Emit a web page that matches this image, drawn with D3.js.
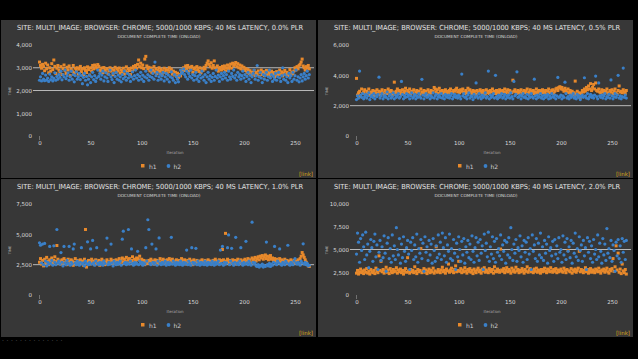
<!DOCTYPE html>
<html><head><meta charset="utf-8">
<script src="https://cdn.jsdelivr.net/npm/d3@7"></script>
<style>html,body{margin:0;padding:0;background:#000;overflow:hidden}</style>
</head><body><svg id="c" width="638" height="359"></svg>
<script>
const titles = [
 "SITE: MULTI_IMAGE; BROWSER: CHROME; 5000/1000 KBPS; 40 MS LATENCY, 0.0% PLR",
 "SITE: MULTI_IMAGE; BROWSER: CHROME; 5000/1000 KBPS; 40 MS LATENCY, 0.5% PLR",
 "SITE: MULTI_IMAGE; BROWSER: CHROME; 5000/1000 KBPS; 40 MS LATENCY, 1.0% PLR",
 "SITE: MULTI_IMAGE; BROWSER: CHROME; 5000/1000 KBPS; 40 MS LATENCY, 2.0% PLR"];
const subtitle = "DOCUMENT COMPLETE TIME (ONLOAD)";
const xTitle = "Iteration", yTitle = "TIME";
const seriesNames = ["h1","h2"];
const xTicks = [0,50,100,150,200,250];
const yMaxes = [4000,6000,7500,10000];
const yTicks = [[0,1000,2000,3000,4000],[0,2000,4000,6000],[0,2500,5000,7500],[0,2500,5000,7500,10000]];
const gridVals = [[2000,3000],[2000],[2500],[5000]];

const p1h1 = [3250,3100,2980,3150,3050,2870,3200,2950,3120,2780,3000,2850,3180,2920,3340,3060,2750,2980,3100,2900,
2820,3050,2700,2960,3120,2880,2750,3020,2900,3080,2650,2950,2850,3100,2780,2980,2890,3000,2720,2940,
3060,2830,2950,2700,3000,2880,2790,3040,2920,2680,3000,2860,3100,2950,3120,3050,2980,3140,3060,2900,
2870,2990,2780,3010,2900,2820,2960,2730,2880,3000,2850,2940,2700,2890,3020,2800,2950,2860,2990,2760,
2900,2830,2980,2720,2870,3040,2810,2950,2880,2700,2990,2850,3060,2920,3100,2980,3150,3340,3050,3200,
3000,3120,2960,3380,3500,3080,2950,3020,2860,2990,2780,2900,3050,2820,2950,2750,2880,3000,2840,2930,
2700,2860,2980,2800,2920,2760,2890,3000,2830,2940,2720,2850,2680,2800,2620,2760,2580,2700,2640,2780,
2900,3000,2880,3080,2960,3100,2850,3020,2930,3060,2800,2950,3000,2870,3050,2920,2840,3000,2780,2930,
2880,3020,2950,3100,3200,3300,3150,3050,3220,2980,3100,3300,3000,2920,3080,2850,2970,3010,2900,3060,
2950,3080,2870,3000,3120,2930,3050,3160,2980,3200,3100,3150,3230,3050,3180,3000,3120,2950,3080,2900,
3020,2880,2960,2800,2920,2750,2870,2680,2800,2720,2880,2650,2790,2700,2860,2620,2780,2900,2700,2830,
2650,2760,2880,2700,2800,2620,2740,2850,2680,2790,2600,2720,2830,2660,2770,2900,2700,2820,2640,2750,
2880,2700,2800,2650,2760,2920,2680,2810,2740,2860,3000,2900,3050,2950,3100,3150,3250,3380,3080,3000,
2900,3050,2980,3100,2950];
const p1h2 = [2450,2600,2420,2750,2500,2430,2680,2460,2550,2400,2720,2480,2600,2420,2530,2780,2450,2620,2500,2700,
2580,2850,2470,2700,2600,2900,2520,2650,2780,2450,2600,2850,2500,2700,2380,2650,2820,2500,2600,2750,
2480,2660,2300,2580,2750,2450,2620,2250,2500,2680,2350,2600,2800,2480,2650,2400,2550,2900,2620,2750,
2500,2680,2850,2420,2600,2780,2550,2400,2700,2900,2600,2480,2750,2350,2620,2800,2500,2680,2450,2600,
2380,2700,2520,2850,2600,2450,2750,2550,2680,2400,2600,2820,2500,2650,2900,2550,2700,2450,2620,2800,
2500,2680,2400,2600,2850,2550,2700,2450,2620,2900,2580,2750,2500,3250,2650,2800,2450,2600,2720,2500,
2650,2800,2420,2600,2750,2500,2680,2380,2600,2820,2550,2450,2700,2350,2600,2500,2380,2650,2900,2750,
2800,2950,2700,2600,2850,2500,2750,2620,2900,2550,2700,2450,2650,2800,2500,2620,2400,2700,2550,2850,
2600,2450,2700,2350,2600,2800,2500,2650,2400,2580,2750,2450,2620,2900,2550,2680,2400,2600,2750,2500,
2650,2800,2550,2700,2450,2850,2600,2500,2750,2620,2900,2550,2680,2450,2800,2600,2700,2500,2650,2850,
2550,2700,2400,2620,2800,2500,2680,2350,2600,2750,2900,2500,2650,3100,2450,2600,2800,2550,2350,2700,
2500,2650,2800,2450,2600,2900,2550,2700,2400,2620,2500,2750,2450,2600,2800,2550,2400,2650,3000,2500,
2700,2450,2600,2350,2750,2550,2650,2400,2800,2500,2650,2900,2450,2600,2380,2550,2700,2420,2600,2750,
2500,2650,2850,2550,2700];

const p2h1 = [3800,2700,2850,2950,2600,3100,2800,2900,3050,2750,2950,2850,3100,2700,2900,2800,3000,2650,2950,2850,
3050,2800,2950,2700,2900,3050,2850,2750,3000,2900,2800,3100,2950,2850,3000,2700,2900,3550,2850,2950,
3100,2800,3000,2900,2750,3050,2850,2950,3150,2800,3000,2900,3100,2750,2950,2850,3050,2700,2900,3000,
2850,2950,2750,3100,2900,2800,3000,2850,2950,2700,3050,2900,2800,3000,2850,2950,3200,3100,2900,3050,
2800,3150,2950,2850,3000,2750,2900,3050,2850,2950,2800,3000,3100,2900,2850,3000,2950,3050,3150,2900,
3000,2850,3050,2950,3100,2900,2800,3000,2850,3150,2950,3050,2900,2800,3000,2850,2950,2750,3000,2900,
2850,3050,2950,2800,3000,2900,2750,3050,2850,2950,2800,3000,2900,3100,2850,2950,2800,3000,2900,2850,
3050,2950,2800,3000,2900,3100,2850,2950,3050,2800,3000,2900,2850,3680,2950,3050,2900,2800,3000,2850,
2950,3050,2800,2900,3000,2850,2950,3100,2800,2900,3050,2850,2950,3000,2800,2900,3100,2850,2950,3000,
2800,2950,3050,2850,2900,3000,2750,2950,3100,2850,2900,3000,3050,2800,2950,3100,3150,3000,3200,3250,
3100,3200,3050,2950,3150,3000,2900,3100,2850,3000,2800,2950,2700,2850,3620,2750,2950,2650,2850,2550,
2800,3000,2900,3100,2950,3200,3050,3300,3100,3450,3000,3200,3400,3100,3500,3000,2950,3100,2900,2850,
3050,2900,3000,2800,2950,3100,2850,2750,3000,2900,3050,2800,2950,3100,2850,2750,3000,3300,2900,2950,
2850,3050,2900,2800,3000];
const p2h2 = [2400,2650,2500,4280,2700,2550,2800,2450,2600,2750,2500,2650,2850,2400,2600,2700,2550,2800,2450,2650,
2600,2750,3880,2500,2650,2800,2450,2600,2700,2550,2900,2450,2650,2750,2500,2600,2850,2450,2700,2550,
2650,2800,2500,2600,3600,2750,2450,2650,2550,2800,2600,2700,2450,2650,2850,2500,2600,2750,2450,2650,
2550,2800,2600,2500,3740,2700,2450,2650,2800,2550,2600,2700,2450,2650,2550,2850,2500,2650,2750,2450,
2600,2700,2550,2800,2500,2650,2450,2750,2600,2550,2700,2500,2650,2800,2450,2600,2750,2550,2650,2500,
2700,2600,2450,4080,2650,2800,2550,2600,2450,2700,2850,2500,2650,2600,2400,2750,2550,3500,2650,2500,
2800,2600,2450,2700,2550,2650,2850,2500,2600,4280,2450,2700,2550,2650,2800,2500,4000,2600,2450,2700,
2550,2650,2800,2500,2600,2750,2450,2650,2550,2700,2500,2850,2600,2450,3600,2650,2750,4230,2550,2600,
2700,2450,2650,2800,2550,2600,2500,2750,2450,2650,2550,2800,2600,2500,3750,2650,2450,2700,2550,2600,
2800,2500,2650,2450,2700,2550,2600,2750,2450,2650,2500,2800,2600,2550,2700,2450,2650,3860,2550,2600,
2700,2450,2650,2550,3550,2800,2500,2600,2450,2700,2550,2650,2800,2500,2600,2450,2750,2550,2650,2400,
2600,2700,2550,3840,2650,2500,2800,2450,2600,2750,2550,2650,2500,2700,3950,2600,2450,3500,2650,2550,
2700,2500,2650,2800,2450,2600,2550,2750,2500,3700,2650,2450,2600,2800,2550,2700,4000,2500,2650,2450,
2600,4480,2550,2700,2500];

const p3h1 = [2700,3000,2550,2850,2400,2950,2650,3100,2800,2500,2900,2700,3050,2600,2850,3150,2750,4080,2950,2600,
2800,2550,2900,2700,3000,2650,2850,2500,2950,2750,2600,2900,2800,2450,2700,3000,2650,2850,2550,2750,
2900,2600,2800,2450,2950,5400,2300,2700,2850,2550,2750,2950,2600,2800,2500,2900,2700,2600,2850,2450,
2750,2950,2600,2800,2500,2700,2900,2550,2750,2650,2950,2800,2600,2850,2700,2900,2550,2800,3000,2650,
2850,3050,2700,2950,2800,3100,2650,2900,3000,2750,2850,3150,2700,2950,2800,3050,3000,2900,3200,2750,
2950,2650,2850,2500,2800,2700,2600,2850,2750,2950,2650,2800,2550,2900,2700,2850,2600,2750,3000,2650,
2800,2950,2700,2850,2600,2900,2750,3000,2650,2850,2950,2700,2800,2550,2900,2750,2650,2850,2700,3000,
2800,2600,2900,2700,2550,2850,2750,2950,2650,2800,2500,2900,2700,2600,2850,2750,2550,2800,2650,2900,
2700,2600,2850,2550,2750,2900,2650,2800,2700,2550,2850,2750,2950,2650,2800,2600,2900,2750,2850,3750,
2900,2700,5080,2800,2950,2650,2850,2750,2600,2900,2700,2850,2550,2800,2950,2700,2650,2900,2750,2600,
2850,2950,2700,2800,3000,2750,2900,2650,3050,2850,2950,3100,2800,3000,3150,2900,3200,3050,3250,2950,
3150,3300,3000,3200,2900,3100,3250,2950,3050,2850,3000,2800,2950,2750,2850,3000,2700,2900,2650,2800,
2950,2750,2850,2600,2800,2700,2900,2550,2750,2850,2650,2800,2700,2900,2600,3000,3200,3500,3300,3100,
2900,2700,2500,2400,2350];
const p3h2 = [4300,4100,2650,4200,2500,4250,2800,2400,2700,2550,4000,2600,2850,2450,4050,2700,2500,5400,2650,2800,
2550,3500,2700,2400,4000,2650,2500,2850,2600,4000,2450,2700,2550,3800,4200,2650,2500,2800,2600,2450,
2700,3900,2550,2650,2400,2800,2600,4380,2500,2700,3800,2550,4500,2650,2450,2800,3900,2600,2500,2700,
2550,2650,2450,2800,2600,3700,4690,2500,2700,2550,4200,2650,2400,2800,2600,2500,2700,2550,2650,2800,
2450,4600,5260,2600,2700,2500,2650,5400,2550,2800,3800,2600,2450,2700,2550,2650,3600,2500,2800,2600,
2700,2450,2650,2550,3900,2800,6200,5400,2600,2500,4200,2700,2550,2650,3800,2450,2800,4700,2600,2500,
2700,2550,2650,2800,2450,2600,2700,2500,2650,4750,2550,2800,2600,2450,2700,2550,2650,2500,2800,2600,
2450,2700,2550,2650,3700,2500,2800,2600,2450,3900,2700,2550,2650,3850,2500,2800,2600,2450,2700,2550,
2650,2500,2800,2600,2450,2700,2550,2650,2500,2800,2600,2450,2700,2550,2650,2800,2500,3700,2600,4000,
2450,2700,2550,2650,3900,4950,2500,2800,3850,2600,2450,2700,4750,2550,2650,2500,2800,3900,2600,2450,
2700,2550,4420,2650,2500,2800,2600,2450,6000,2700,2550,2650,2400,2350,2500,2300,2450,2400,2550,2300,
2450,2350,4360,2500,2400,2600,2350,2550,2450,2700,4000,2600,2500,2800,2650,3800,2550,2450,2700,2600,
2500,2800,2650,4100,2550,2450,2700,2600,2500,2800,3000,2650,2550,2700,2600,2450,2800,2650,4220,2550,
2700,2500,2600,2400,2450];

const p4h1 = [2400,2700,2300,2550,2850,2450,2650,2350,2750,2500,2900,2400,2600,2300,2800,2550,2450,2700,2350,2950,
2600,2450,4300,2700,3700,2550,2800,2400,2650,3050,2500,2750,2350,2900,2600,2450,2800,2550,2650,3000,
2400,2750,2550,2850,2450,2700,2300,2600,2900,2500,4100,2650,2400,2800,2550,2700,2450,3100,2600,2350,
2800,2550,2700,5100,2450,2650,2900,2500,2750,2350,2600,2850,2450,2700,2550,2950,2400,2650,5300,2500,
2800,2600,2450,2750,3050,2550,2700,2400,2850,2650,3400,2500,2750,2950,2600,2450,2800,3200,2550,2700,
3700,2600,2900,2450,2750,2550,3000,2650,2400,2800,2600,2900,2500,2700,2350,2850,2600,2450,2750,2950,
2550,2700,2400,2850,2650,3000,2500,2750,2600,2450,2900,2700,2550,2800,2400,3100,2650,2550,2850,2700,
2500,5050,2750,2600,2900,2450,2700,3000,2550,2800,2650,2400,2950,2600,2750,2500,3050,2650,2800,2450,
2700,2550,2900,2650,2400,2800,2600,3100,2500,2750,2900,2550,2700,2450,2850,2600,2950,2500,2750,2650,
2400,2800,2550,2700,2950,2600,2450,2850,2700,2550,3000,2650,2500,2800,2600,2900,2450,2750,2550,2700,
2850,2600,2500,2950,2700,2450,2800,4900,2650,2550,2900,2400,2750,2600,2850,2500,2700,2950,4800,2550,
2800,2650,2450,2700,3000,2550,2800,2400,2650,2900,2500,2750,2600,2450,2850,2700,2550,2950,2600,2400,
2750,2650,2850,2500,2700,2950,2550,2400,2800,2650,2900,4000,2600,3100,5400,2750,4600,2500,2850,2350,
3400,2650,2450,2800,2300];
const p4h2 = [4500,6800,5800,3600,6200,4900,6600,5300,3900,6900,4400,5600,3000,4800,6100,5200,3700,5900,6700,4200,
5500,2800,4700,6000,3800,5300,4100,6500,4600,2600,5700,6300,4000,5100,3600,6600,4300,5400,3900,7400,
5000,4400,6200,3500,5600,4100,6400,4800,3700,5200,6000,4500,2800,5800,4900,6300,3900,5500,4200,6700,
3600,5100,4600,6100,4000,5700,2600,6400,4700,5300,3800,6000,4400,5600,3500,6200,4900,3700,5400,4100,
6600,4500,5800,3900,6800,5200,4300,6300,3600,5500,4800,6700,4000,5100,3800,6100,4600,2800,5700,4200,
6400,5000,3700,5900,4400,6200,3500,5300,4700,6000,4100,5600,3900,6500,4800,3600,5200,6300,4300,5800,
3800,6100,4600,5400,2800,6700,4900,5700,4200,6900,3700,5300,4500,6400,4000,5900,3600,6200,4700,5100,
4300,6600,3900,5500,4800,6000,3500,5800,4400,6300,4100,7400,5000,3800,5600,4600,6100,3700,5200,4900,
6500,4200,5400,3600,6000,4700,5800,3900,6300,4500,5100,2800,6600,4800,5500,4000,6200,3700,5700,4400,
6800,4100,5300,3800,6000,4600,5600,3500,6400,4900,5200,4300,5900,3700,6100,4500,5400,4000,6300,4700,
5000,3600,6500,4400,5800,3900,6200,4800,5300,4100,6000,3500,5700,4600,6800,4200,5100,3800,6400,4900,
5500,3700,6000,4300,5200,2800,6300,4700,5900,4000,5400,3600,6100,4500,5000,3900,6600,4200,5700,4800,
3500,6200,4400,5600,3800,7300,4600,5100,4100,6000,3700,5500,4900,2600,5800,4300,6100,4000,5400,3600,
6200,4700,5900,3900,6000];

const h1Series = [p1h1,p2h1,p3h1,p4h1];
const h2Series = [p1h2,p2h2,p3h2,p4h2];

const colors = {h1:"#e8892b", h2:"#3a80c9"};
const panelBg = "#373737";
const svg = d3.select("#c");
svg.append("rect").attr("width",638).attr("height",359).attr("fill","#000");

const panels = [{px:1,py:20},{px:318,py:20},{px:1,py:179},{px:318,py:179}];
const PW = 315, PH = 158;
const font = "'DejaVu Sans', sans-serif";

panels.forEach((p,i)=>{
  const g = svg.append("g");
  g.append("rect").attr("x",p.px).attr("y",p.py).attr("width",PW).attr("height",PH).attr("fill",panelBg);
  g.append("text").attr("x",p.px+159).attr("y",p.py+10).attr("text-anchor","middle")
    .attr("font-family",font).attr("font-size",7).attr("fill","#e2e2e2")
    .attr("textLength",286).attr("lengthAdjust","spacingAndGlyphs").text(titles[i]);
  g.append("text").attr("x",p.px+158).attr("y",p.py+17.5).attr("text-anchor","middle")
    .attr("font-family",font).attr("font-size",4.2).attr("fill","#d8d8d8")
    .attr("textLength",83).attr("lengthAdjust","spacingAndGlyphs").text(subtitle);

  const x = d3.scaleLinear().domain([0,250]).range([p.px+38.5, p.px+294]);
  const y = d3.scaleLinear().domain([0,yMaxes[i]]).range([p.py+116, p.py+25]);

  // gridlines
  g.selectAll(".grid").data(gridVals[i]).join("line")
    .attr("x1",p.px+32).attr("x2",p.px+313)
    .attr("y1",d=>y(d)).attr("y2",d=>y(d))
    .attr("stroke","#b8b8b8").attr("stroke-width",1);

  // y axis
  const yAxis = d3.axisLeft(y).tickValues(yTicks[i]).tickSize(0).tickPadding(0)
    .tickFormat(d3.format(","));
  const ya = g.append("g").attr("transform",`translate(${p.px+31},0)`).call(yAxis);
  ya.select(".domain").remove();
  ya.selectAll("text").attr("font-family",font).attr("font-size",5.5).attr("fill","#dcdcdc");

  // x axis
  const xAxis = d3.axisBottom(x).tickValues(xTicks).tickSize(0).tickPadding(0).tickFormat(d3.format("d"));
  const xa = g.append("g").attr("transform",`translate(0,${p.py+121})`).call(xAxis);
  xa.select(".domain").remove();
  xa.selectAll("text").attr("font-family",font).attr("font-size",5.5).attr("fill","#dcdcdc");
  g.append("line").attr("x1",x(0)).attr("x2",x(0)).attr("y1",p.py+116).attr("y2",p.py+120)
    .attr("stroke","#999").attr("stroke-width",0.6);

  // axis titles
  g.append("text").attr("x",p.px+174).attr("y",p.py+133.5).attr("text-anchor","middle")
    .attr("font-family",font).attr("font-size",4).attr("fill","#aaa").text(xTitle);
  g.append("text").attr("transform",`translate(${p.px+9.5},${p.py+71}) rotate(-90)`).attr("text-anchor","middle")
    .attr("font-family",font).attr("font-size",3.5).attr("fill","#aaa").text(yTitle);

  // points
  g.append("g").selectAll("rect").data(h1Series[i]).join("rect")
    .attr("x",(d,j)=>x(j)-1.5).attr("y",d=>y(d)-1.5).attr("width",3).attr("height",3)
    .attr("fill",colors.h1);
  g.append("g").selectAll("circle").data(h2Series[i]).join("circle")
    .attr("cx",(d,j)=>x(j)).attr("cy",d=>y(d)).attr("r",1.6)
    .attr("fill",colors.h2);

  // legend
  const lg = g.append("g");
  lg.append("rect").attr("x",p.px+140).attr("y",p.py+144).attr("width",3.5).attr("height",3.5).attr("fill",colors.h1);
  lg.append("text").attr("x",p.px+148).attr("y",p.py+148.5).attr("font-family",font).attr("font-size",6)
    .attr("fill","#cfcfcf").text(seriesNames[0]);
  lg.append("circle").attr("cx",p.px+167.5).attr("cy",p.py+146).attr("r",1.9).attr("fill",colors.h2);
  lg.append("text").attr("x",p.px+172.5).attr("y",p.py+148.5).attr("font-family",font).attr("font-size",6)
    .attr("fill","#cfcfcf").text(seriesNames[1]);

  // link
  g.append("text").attr("x",p.px+312).attr("y",p.py+156).attr("text-anchor","end")
    .attr("font-family",font).attr("font-size",5.5).attr("fill","#d9a21b").text("[link]");
});

svg.append("text").attr("x",2).attr("y",341).attr("font-family",font).attr("font-size",6)
  .attr("fill","#666").attr("letter-spacing",2.6).text("..............");
</script></body></html>
